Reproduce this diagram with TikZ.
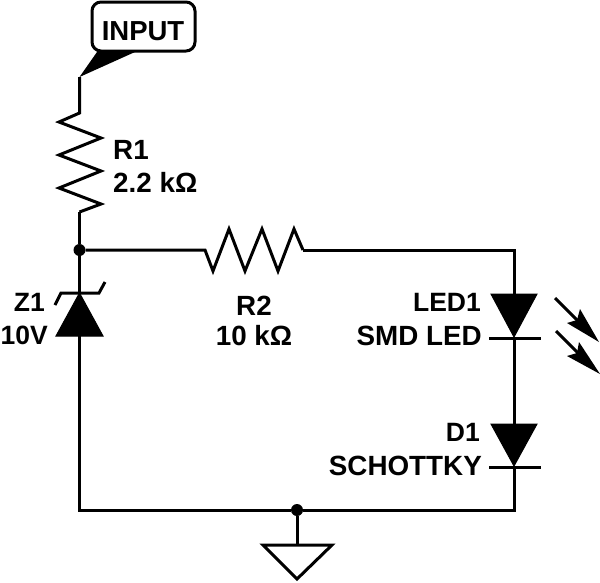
\documentclass[tikz,border=0pt]{standalone}
\usepackage{fontspec}
\setmainfont{Liberation Sans}
\tikzset{
  wire/.style={line width=3pt, line join=miter},
  solid part/.style={fill=black, draw=black, line width=1pt, line join=miter},
  dot/.style={circle, fill=black, inner sep=0pt, minimum size=12pt},
  txt/.style={inner sep=0pt, font=\fontsize{27.8}{30}\selectfont\bfseries},
  short txt/.style={inner sep=0pt, font=\fontsize{26.5}{30}\selectfont\bfseries},
  pin/.style={draw, line width=3pt, rounded corners=9pt, minimum width=103pt, minimum height=49pt}
}
\begin{document}
\begin{tikzpicture}[x=1pt,y=-1pt]
\useasboundingbox (0,0) rectangle (600,582);

% input flag
\node[pin] (input) at (143.5,26.5) {};
\node[txt, anchor=base, font=\fontsize{27.5}{30}\selectfont\bfseries] (inputtxt) at (143,40) {INPUT};
\coordinate (flagtip) at (79.5,77);
\fill (flagtip) -- (97,52) -- (135,52) -- cycle;

% R1
\coordinate (r1top) at (79.5,113);
\coordinate (r1bot) at (79.5,212);
\draw[wire] (flagtip) -- (r1top) -- (59,122) -- (101,138) -- (59,155) -- (101,171) -- (59,188) -- (101,204) -- (r1bot);

% junction
\node[dot] (top) at (79.5,250) {};
\draw[wire] (r1bot) -- (top);

% R2
\coordinate (r2a) at (205,250);
\coordinate (r2b) at (303,250);
\draw[wire] (top) -- (r2a) -- (213,271) -- (229,229) -- (245,271) -- (262,229) -- (278,271) -- (294,229) -- (r2b);

% Z1
\coordinate (zbar) at (79.5,293);
\coordinate (zbase) at (79.5,336);
\node[dot] (bot) at (297,510) {};
\draw[wire] (top) -- (zbar);
\draw[wire] (55,305) -- (61,293) -- (99,293) -- (105,282);
\filldraw[solid part] (zbar) -- (103,336) -- (56,336) -- cycle;
\coordinate (corner1) at (79.5,510);
\draw[wire] (zbase) -- (corner1) -- (bot);

% right branch
\coordinate (corner2) at (514,250);
\coordinate (corner3) at (514,510);
\coordinate (ledk) at (514,337);
\coordinate (dk) at (514,466);
\draw[wire] (r2b) -- (corner2) -- (514,294);
\filldraw[solid part] (491,294) -- (537,294) -- (ledk) -- cycle;
\draw[wire] (489,338) -- (541,338);
\draw[wire] (ledk) -- (514,424);
\filldraw[solid part] (491,424) -- (537,424) -- (dk) -- cycle;
\draw[wire] (489,467) -- (541,467);
\draw[wire] (dk) -- (corner3) -- (bot);

% led arrows
\draw[wire] (555,298) -- (585,328);
\fill (599,342) -- (567,323) -- (577,320) -- (580,309) -- cycle;
\draw[wire] (556,331) -- (586,361);
\fill (600,374) -- (567,356) -- (577,353) -- (579,342) -- cycle;

% ground
\coordinate (gnd) at (297,545);
\draw[wire] (bot) -- (gnd);
\draw[wire] (263,545) -- (332,545) -- (297,579) -- cycle;

% labels
\node[txt, anchor=base west] (r1name) at (113,159) {R1};
\node[txt, anchor=base west] (r1val) at (113,192) {2.2 kΩ};
\node[short txt, anchor=base east] (z1name) at (45,311) {Z1};
\node[short txt, anchor=base east] (z1val) at (48,344) {10V};
\node[txt, anchor=base] (r2name) at (254,315) {R2};
\node[txt, anchor=base] (r2val) at (254,345) {10 kΩ};
\node[short txt, anchor=base east] (ledname) at (481,311) {LED1};
\node[txt, anchor=base east] (ledval) at (482,345) {SMD LED};
\node[short txt, anchor=base east] (dname) at (480,441) {D1};
\node[txt, anchor=base east] (dval) at (482,475) {SCHOTTKY};
\end{tikzpicture}
\end{document}
